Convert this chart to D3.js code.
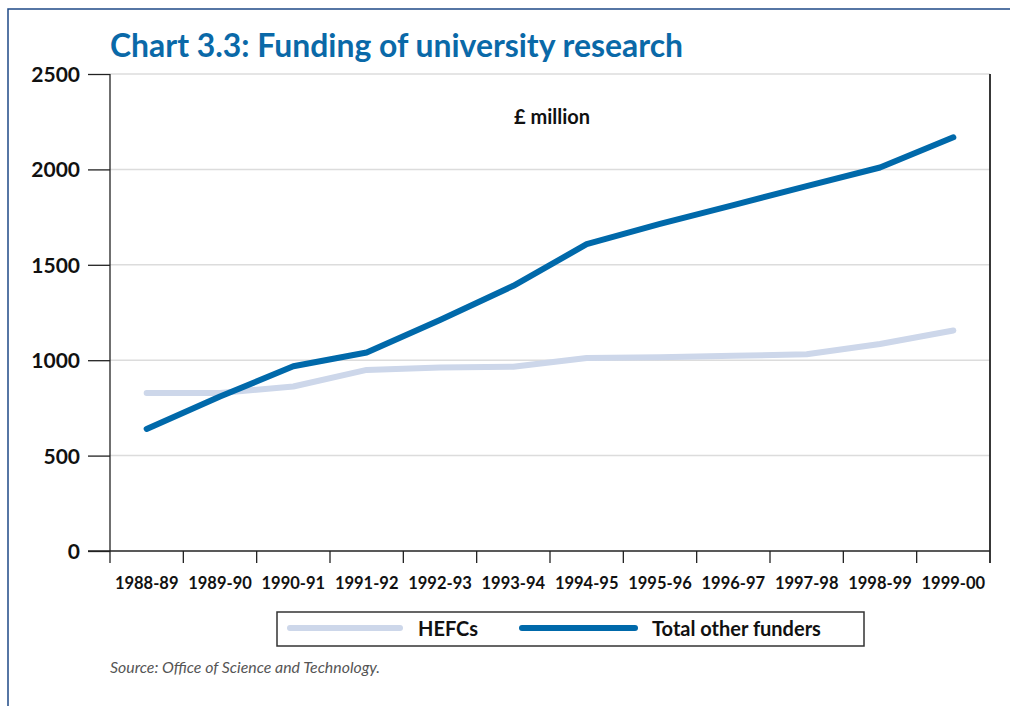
<!DOCTYPE html>
<html>
<head>
<meta charset="utf-8">
<script src="https://cdn.jsdelivr.net/npm/d3@7"></script>
<style>
  html, body { margin: 0; padding: 0; background: #fff; }
  svg { display: block; font-family: Lato, "Open Sans", sans-serif; }
</style>
</head>
<body>
<svg id="chart" width="1010" height="706"></svg>
<script>
// Funding of university research, £ million
const years = ["1988-89","1989-90","1990-91","1991-92","1992-93","1993-94",
               "1994-95","1995-96","1996-97","1997-98","1998-99","1999-00"];
const hefcs = [828, 828, 862, 949, 962, 966, 1012, 1016, 1023, 1031, 1085, 1156];
const otherFunders = [640, 810, 968, 1040, 1211, 1390, 1608, 1714, 1813, 1912, 2010, 2168];
const yTicks = [0, 500, 1000, 1500, 2000, 2500];
const seriesNames = ["HEFCs", "Total other funders"];
const seriesColors = ["#cdd7ea", "#0069aa"];

const svg = d3.select("#chart");
const margin = { left: 110, right: 990, top: 74, bottom: 551 };

// page frame
svg.append("path")
  .attr("d", "M8,706 V9 H1010")
  .attr("fill", "none")
  .attr("stroke", "#1f4a86")
  .attr("stroke-width", 1.5);

// title
svg.append("text")
  .attr("x", 110).attr("y", 57)
  .attr("fill", "#0a69a8")
  .attr("font-size", 33).attr("font-weight", 700)
  .attr("textLength", 573).attr("lengthAdjust", "spacingAndGlyphs")
  .text("Chart 3.3: Funding of university research");

const x = d3.scaleBand().domain(years).range([margin.left, margin.right]);
const y = d3.scaleLinear().domain([0, 2500]).range([margin.bottom, margin.top]);

// horizontal gridlines
svg.append("g")
  .selectAll("line")
  .data(yTicks.filter(d => d > 0))
  .join("line")
  .attr("x1", margin.left).attr("x2", margin.right)
  .attr("y1", d => y(d)).attr("y2", d => y(d))
  .attr("stroke", "#dcdcdc").attr("stroke-width", 1.5);

// y axis
const yAxis = svg.append("g")
  .attr("transform", `translate(${margin.left},0)`)
  .call(d3.axisLeft(y).tickValues(yTicks).tickSize(22).tickPadding(8).tickFormat(d3.format("d")));
yAxis.select(".domain").remove();
yAxis.selectAll(".tick line").attr("stroke", "#222").attr("stroke-width", 1.3);
yAxis.selectAll(".tick text")
  .attr("font-family", "Lato, sans-serif")
  .attr("font-size", 21).attr("font-weight", 700).attr("fill", "#111")
  .attr("dy", "0.36em");
svg.append("line")
  .attr("x1", margin.left).attr("x2", margin.left)
  .attr("y1", margin.top).attr("y2", margin.bottom + 12)
  .attr("stroke", "#222").attr("stroke-width", 1.3);

// right edge of plot
svg.append("line")
  .attr("x1", margin.right).attr("x2", margin.right)
  .attr("y1", margin.top).attr("y2", margin.bottom + 12)
  .attr("stroke", "#222").attr("stroke-width", 1.8);

// x axis
const xAxis = svg.append("g")
  .attr("transform", `translate(0,${margin.bottom})`)
  .call(d3.axisBottom(x).tickSize(0).tickPadding(26));
xAxis.select(".domain").remove();
xAxis.selectAll(".tick text")
  .attr("font-family", "Lato, sans-serif")
  .attr("font-size", 16.5).attr("font-weight", 700).attr("fill", "#111");
svg.append("line")
  .attr("x1", margin.left - 22).attr("x2", margin.right)
  .attr("y1", margin.bottom).attr("y2", margin.bottom)
  .attr("stroke", "#222").attr("stroke-width", 1.3);
svg.append("g")
  .selectAll("line")
  .data(years.slice(1))
  .join("line")
  .attr("x1", d => x(d)).attr("x2", d => x(d))
  .attr("y1", margin.bottom).attr("y2", margin.bottom + 12)
  .attr("stroke", "#222").attr("stroke-width", 1.3);

// unit label
svg.append("text")
  .attr("x", 552).attr("y", 124)
  .attr("text-anchor", "middle")
  .attr("font-size", 20).attr("font-weight", 700).attr("fill", "#111")
  .text("£ million");

// series lines
const line = d3.line()
  .x((d, i) => x(years[i]) + x.bandwidth() / 2)
  .y(d => y(d));

[hefcs, otherFunders].forEach((vals, k) => {
  svg.append("path")
    .datum(vals)
    .attr("d", line)
    .attr("fill", "none")
    .attr("stroke", seriesColors[k])
    .attr("stroke-width", 6)
    .attr("stroke-linecap", "round")
    .attr("stroke-linejoin", "round");
});

// legend
const legend = svg.append("g");
legend.append("rect")
  .attr("x", 277).attr("y", 612).attr("width", 587).attr("height", 34)
  .attr("fill", "#fff").attr("stroke", "#333").attr("stroke-width", 1.5);
const legendItems = [
  { name: seriesNames[0], color: seriesColors[0], x1: 290, x2: 400, tx: 418 },
  { name: seriesNames[1], color: seriesColors[1], x1: 522, x2: 635, tx: 652 }
];
legendItems.forEach(it => {
  legend.append("line")
    .attr("x1", it.x1).attr("x2", it.x2).attr("y1", 628).attr("y2", 628)
    .attr("stroke", it.color).attr("stroke-width", 6).attr("stroke-linecap", "round");
  legend.append("text")
    .attr("x", it.tx).attr("y", 636)
    .attr("font-size", 20).attr("font-weight", 700).attr("fill", "#111")
    .text(it.name);
});

// source note
svg.append("text")
  .attr("x", 110).attr("y", 673)
  .attr("font-size", 15).attr("font-style", "italic").attr("fill", "#555")
  .attr("textLength", 270).attr("lengthAdjust", "spacingAndGlyphs")
  .text("Source: Office of Science and Technology.");
</script>
</body>
</html>
